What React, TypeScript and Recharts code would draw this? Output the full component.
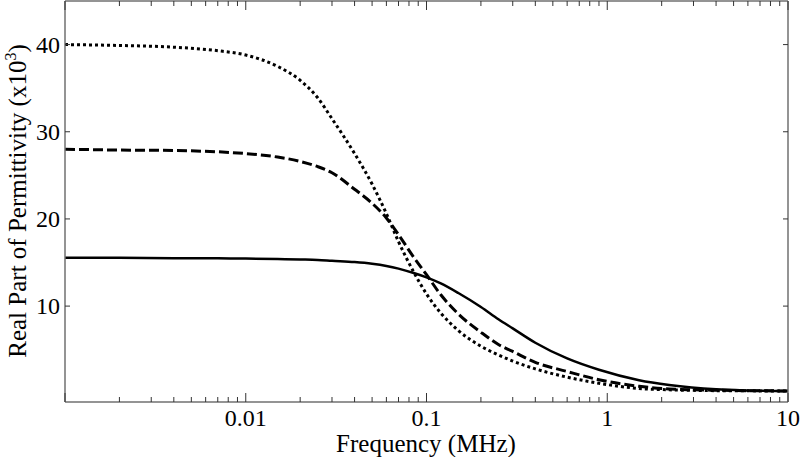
import { LineChart, Line, XAxis, YAxis } from "recharts";

document.body.style.margin = "0";

// frequency in MHz
const freq = [
  0.001, 0.002, 0.004, 0.007, 0.01, 0.015, 0.02, 0.025, 0.03, 0.04, 0.05, 0.06,
  0.07, 0.085, 0.1, 0.12, 0.15, 0.2, 0.25, 0.3, 0.4, 0.6, 0.9, 1.5, 2.2, 4, 6, 10
];

// real part of permittivity (x10^3)
const solid = [
  15.55, 15.55, 15.5, 15.5, 15.45, 15.4, 15.35, 15.3, 15.2, 15.05, 14.85, 14.6,
  14.3, 13.8, 13.3, 12.6, 11.5, 9.9, 8.5, 7.45, 5.8, 4.0, 2.7, 1.5, 0.95, 0.45, 0.32, 0.25
];
const dashed = [
  28.0, 27.9, 27.85, 27.7, 27.5, 27.1, 26.6, 26.0, 25.3, 23.4, 21.8, 20.1,
  18.2, 15.6, 13.6, 11.3, 9.1, 7.0, 5.6, 4.8, 3.55, 2.5, 1.55, 0.8, 0.5, 0.35, 0.3, 0.27
];
const dotted = [
  40.0, 39.9, 39.7, 39.3, 38.8, 37.5, 35.9, 33.9, 31.5, 27.5, 24.0, 20.6,
  17.4, 13.9, 11.4, 9.2, 7.2, 5.4, 4.4, 3.7, 2.8, 1.85, 1.15, 0.55, 0.4, 0.3, 0.28, 0.25
];

const xMajorTicks = [0.001, 0.01, 0.1, 1, 10];
const xLabelTicks = [0.01, 0.1, 1, 10];
const xMinorTicks = [
  0.002, 0.003, 0.004, 0.005, 0.006, 0.007, 0.008, 0.009,
  0.02, 0.03, 0.04, 0.05, 0.06, 0.07, 0.08, 0.09,
  0.2, 0.3, 0.4, 0.5, 0.6, 0.7, 0.8, 0.9,
  2, 3, 4, 5, 6, 7, 8, 9
];
const yTicks = [10, 20, 30, 40];

const data = freq.map((f, i) => ({
  f,
  solid: solid[i],
  dashed: dashed[i],
  dotted: dotted[i]
}));

const allXTicks = [...xMajorTicks, ...xMinorTicks].sort((a, b) => a - b);

const FONT = "'Liberation Serif', 'DejaVu Serif', serif";
const AXIS = "#707070";

const tickLen = (v: number) => (xMajorTicks.includes(v) ? 9 : 5);

const BottomTick = (props: any) => {
  const { x, y, payload } = props;
  const v = payload.value;
  return (
    <g>
      <line x1={x} y1={y} x2={x} y2={y - tickLen(v)} stroke="#333" strokeWidth={1} />
      {xLabelTicks.includes(v) && (
        <text x={x} y={y + 24} textAnchor="middle" fontSize={24} fontFamily={FONT} fill="#000">
          {String(v)}
        </text>
      )}
    </g>
  );
};

const TopTick = (props: any) => {
  const { x, y, payload } = props;
  return <line x1={x} y1={y} x2={x} y2={y + tickLen(payload.value)} stroke="#333" strokeWidth={1} />;
};

const LeftTick = (props: any) => {
  const { x, y, payload } = props;
  return (
    <g>
      <line x1={x} y1={y} x2={x + 5} y2={y} stroke="#333" strokeWidth={1} />
      <text x={x - 5} y={y + 8} textAnchor="end" fontSize={24} fontFamily={FONT} fill="#000">
        {payload.value}
      </text>
    </g>
  );
};

const RightTick = (props: any) => {
  const { x, y } = props;
  return <line x1={x} y1={y} x2={x - 5} y2={y} stroke="#333" strokeWidth={1} />;
};

const XLabel = () => (
  <text x={426} y={452} textAnchor="middle" fontSize={25} fontFamily={FONT} fill="#000">
    Frequency (MHz)
  </text>
);

const YLabel = () => (
  <text
    x={0}
    y={0}
    transform="translate(26, 201) rotate(-90)"
    textAnchor="middle"
    fontSize={25}
    fontFamily={FONT}
    fill="#000"
  >
    Real Part of Permittivity (x10
    <tspan fontSize={16} dy={-10}>3</tspan>
    <tspan dy={10}>)</tspan>
  </text>
);

export default function App() {
  return (
    <LineChart width={800} height={457} data={data} margin={{ top: 0, right: 11, bottom: 0, left: 0 }}>
      <XAxis
        dataKey="f"
        type="number"
        scale="log"
        domain={[0.001, 10]}
        allowDataOverflow
        ticks={allXTicks}
        interval={0}
        height={55}
        tickSize={0}
        tickMargin={0}
        tickLine={false}
        tick={BottomTick}
        axisLine={{ stroke: AXIS, strokeWidth: 1.5 }}
        label={{ content: XLabel }}
      />
      <XAxis
        xAxisId="top"
        orientation="top"
        dataKey="f"
        type="number"
        scale="log"
        domain={[0.001, 10]}
        allowDataOverflow
        ticks={allXTicks}
        interval={0}
        height={1}
        tickSize={0}
        tickMargin={0}
        tickLine={false}
        tick={TopTick}
        axisLine={{ stroke: AXIS, strokeWidth: 1.5 }}
      />
      <YAxis
        type="number"
        domain={[-1, 45]}
        allowDataOverflow
        ticks={yTicks}
        interval={0}
        width={65}
        tickSize={0}
        tickMargin={0}
        tickLine={false}
        tick={LeftTick}
        axisLine={{ stroke: AXIS, strokeWidth: 1.5 }}
        label={{ content: YLabel }}
      />
      <YAxis
        yAxisId="right"
        orientation="right"
        type="number"
        domain={[-1, 45]}
        allowDataOverflow
        ticks={yTicks}
        interval={0}
        width={1}
        tickSize={0}
        tickMargin={0}
        tickLine={false}
        tick={RightTick}
        axisLine={{ stroke: AXIS, strokeWidth: 1.5 }}
      />
      <Line
        dataKey="solid"
        type="monotone"
        stroke="#000"
        strokeWidth={2.5}
        dot={false}
        isAnimationActive={false}
      />
      <Line
        dataKey="dashed"
        type="monotone"
        stroke="#000"
        strokeWidth={3}
        strokeDasharray="10 4"
        dot={false}
        isAnimationActive={false}
      />
      <Line
        dataKey="dotted"
        type="monotone"
        stroke="#000"
        strokeWidth={3}
        strokeDasharray="3 3"
        dot={false}
        isAnimationActive={false}
      />
    </LineChart>
  );
}
